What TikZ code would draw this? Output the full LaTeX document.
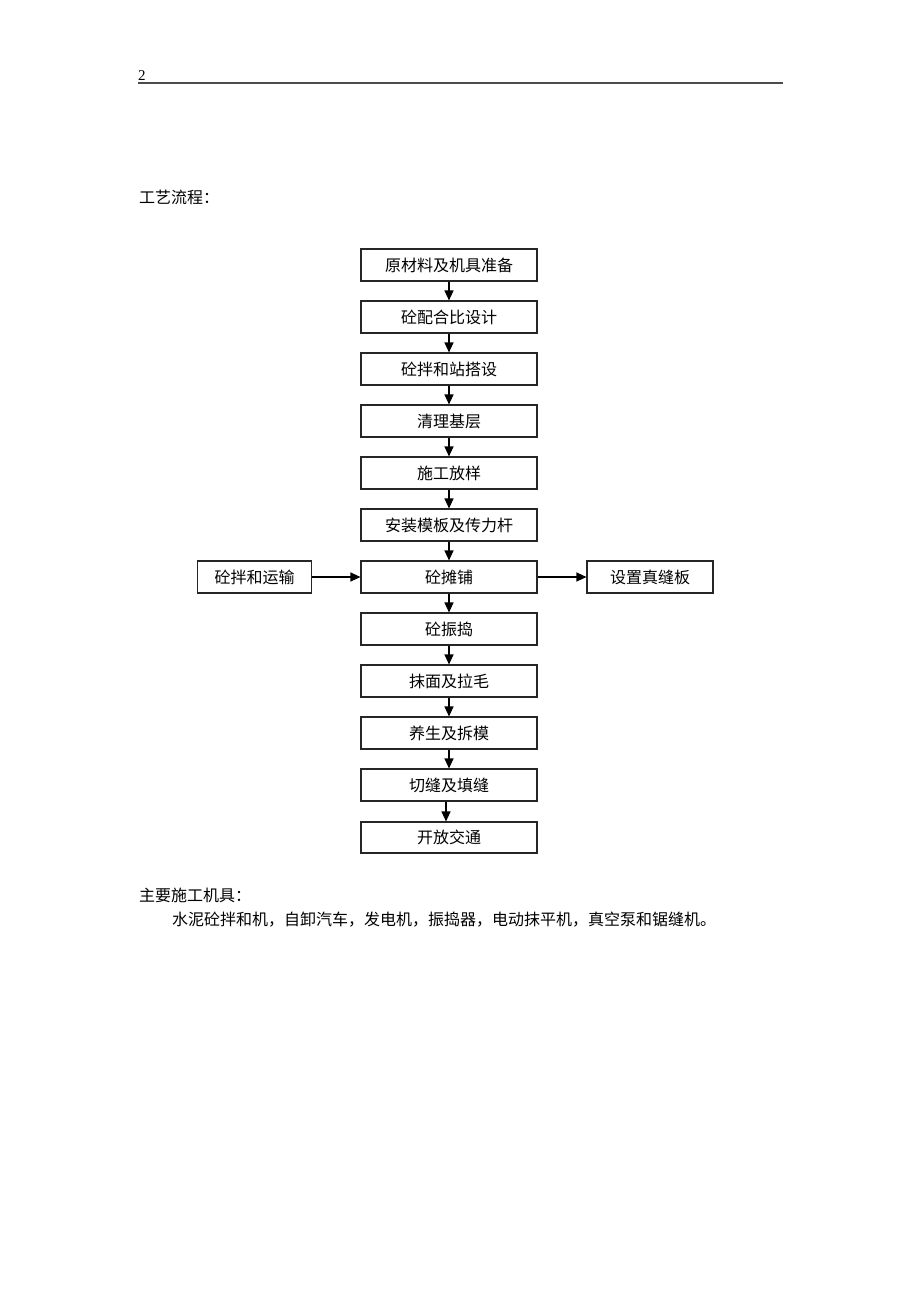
\documentclass[tikz,border=0pt]{standalone}
\usepackage{fontspec}
\setmainfont{Liberation Serif}
\newfontfamily\cjk{Noto Sans CJK SC}
\usetikzlibrary{arrows.meta}
\begin{document}
\begin{tikzpicture}[x=1pt,y=-1pt,
  mainbox/.style={draw=black!85,line width=1.1pt,minimum width=176pt,minimum height=32pt,inner sep=0pt,font=\cjk\fontsize{16}{17}\selectfont},
  sidebox/.style={draw=black!85,line width=1.1pt,minimum height=32pt,inner sep=0pt,font=\cjk\fontsize{16}{17}\selectfont},
  arr/.style={draw=black,line width=1.1pt,-{Triangle[length=10pt,width=9pt]}},
  plain/.style={inner sep=0pt,anchor=west,font=\cjk\fontsize{16}{17}\selectfont}]
\useasboundingbox[fill=white] (0,0) rectangle (920,1302);
% header
\node[inner sep=0pt,anchor=south west,font=\fontsize{15}{16}\selectfont] (pg) at (138,81) {2};
\coordinate (hl) at (138,83);
\coordinate (hr) at (783,83);
\draw[line width=1.3pt,black!70] (hl) -- (hr);
\node[plain] (title) at (139,197) {工艺流程：};
% main column
\node[mainbox] (m1) at (449,265) {原材料及机具准备};
\node[mainbox] (m2) at (449,317) {砼配合比设计};
\node[mainbox] (m3) at (449,369) {砼拌和站搭设};
\node[mainbox] (m4) at (449,421) {清理基层};
\node[mainbox] (m5) at (449,473) {施工放样};
\node[mainbox] (m6) at (449,525) {安装模板及传力杆};
\node[mainbox] (m7) at (449,577) {砼摊铺};
\node[mainbox] (m8) at (449,629) {砼振捣};
\node[mainbox] (m9) at (449,681) {抹面及拉毛};
\node[mainbox] (m10) at (449,733) {养生及拆模};
\node[mainbox] (m11) at (449,785) {切缝及填缝};
\node[mainbox,minimum height=31pt] (m12) at (449,837.5) {开放交通};
% side boxes
\node[sidebox,minimum width=114pt] (L) at (254.5,577) {砼拌和运输};
\node[sidebox,minimum width=126pt] (R) at (650,577) {设置真缝板};
% arrows
\foreach \a/\b in {m1/m2,m2/m3,m3/m4,m4/m5,m5/m6,m6/m7,m7/m8,m8/m9,m9/m10,m10/m11}
  \draw[arr] (\a.south) -- (\b.north);
\draw[arr] ([xshift=-3pt]m11.south) -- ([xshift=-3pt]m12.north);
\draw[arr] (L.east) -- (m7.west);
\draw[arr] (m7.east) -- (R.west);
% bottom text
\node[plain] (tools) at (139,895) {主要施工机具：};
\node[plain] (list) at (172,920) {水泥砼拌和机，自卸汽车，发电机，振捣器，电动抹平机，真空泵和锯缝机。};
\end{tikzpicture}
\end{document}
